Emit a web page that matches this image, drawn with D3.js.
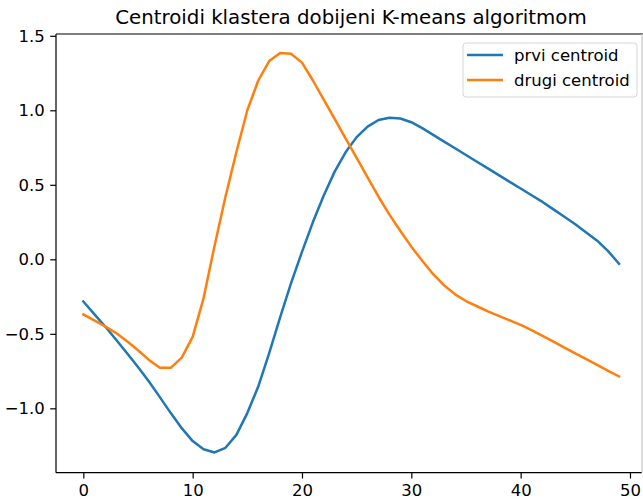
<!DOCTYPE html>
<html lang="en">
<head>
    <meta charset="UTF-8">
    <title>Centroidi</title>
    <style>
        body { margin: 0; background: white; }
        text { font-family: "DejaVu Sans", sans-serif; fill: #000; }
    </style>
</head>
<body>
<div id="my_dataviz"></div>
<script src="https://d3js.org/d3.v7.min.js"></script>
<script>
    // cluster centroids, one value per step 0..49
    var steps = d3.range(50);

    var prvi = [-0.283, -0.368, -0.451, -0.54, -0.63, -0.723, -0.82, -0.925, -1.032, -1.133,
        -1.22, -1.275, -1.296, -1.265, -1.178, -1.032, -0.854, -0.63, -0.39, -0.16,
        0.05, 0.25, 0.43, 0.59, 0.72, 0.82, 0.89, 0.935, 0.95, 0.945,
        0.92, 0.88, 0.835, 0.79, 0.745, 0.70, 0.655, 0.61, 0.565, 0.52,
        0.475, 0.43, 0.385, 0.335, 0.285, 0.235, 0.18, 0.125, 0.055, -0.03];

    var drugi = [-0.37, -0.41, -0.45, -0.495, -0.55, -0.61, -0.675, -0.728, -0.728, -0.66,
        -0.52, -0.26, 0.09, 0.42, 0.72, 1.0, 1.2, 1.33, 1.385, 1.38,
        1.32, 1.2, 1.07, 0.94, 0.81, 0.68, 0.55, 0.42, 0.30, 0.19,
        0.085, -0.01, -0.1, -0.175, -0.235, -0.28, -0.315, -0.35, -0.38, -0.41,
        -0.44, -0.475, -0.514, -0.553, -0.592, -0.631, -0.67, -0.709, -0.748, -0.786];

    var seriesNames = ["prvi centroid", "drugi centroid"];
    var colors = ["#1f77b4", "#ff7f0e"];
    var xTicks = [0, 10, 20, 30, 40, 50];
    var yTicks = [-1.0, -0.5, 0.0, 0.5, 1.0, 1.5];

    var width = 643, height = 504;
    var plotL = 56, plotR = 642, plotT = 34, plotB = 472.7;

    var svg = d3.select("#my_dataviz")
        .append("svg")
        .attr("width", width)
        .attr("height", height);

    var x = d3.scaleLinear().domain([-2.5, 51.1]).range([plotL, plotR]);
    var y = d3.scaleLinear().domain([-1.432, 1.512]).range([plotB, plotT]);

    var fmt = function (d) { return d3.format(".1f")(d).replace("-", "\u2212"); };

    // axes
    var xAxis = svg.append("g")
        .attr("transform", "translate(0," + plotB + ")")
        .call(d3.axisBottom(x).tickValues(xTicks).tickSize(5.8).tickPadding(5.5).tickFormat(d3.format("d")));
    var yAxis = svg.append("g")
        .attr("transform", "translate(" + plotL + ",0)")
        .call(d3.axisLeft(y).tickValues(yTicks).tickSize(5.8).tickPadding(5.5).tickFormat(fmt));

    [xAxis, yAxis].forEach(function (g) {
        g.select(".domain").remove();
        g.selectAll("line").attr("stroke", "#000").attr("stroke-width", 1.2);
        g.selectAll("text").style("font-size", "16.5px").style("font-family", "DejaVu Sans");
    });

    // lines
    var line = d3.line()
        .x(function (d, i) { return x(steps[i]); })
        .y(function (d) { return y(d); });

    [prvi, drugi].forEach(function (s, k) {
        svg.append("path")
            .datum(s)
            .attr("d", line)
            .attr("fill", "none")
            .attr("stroke", colors[k])
            .attr("stroke-width", 2.5)
            .attr("stroke-linejoin", "round")
            .attr("stroke-linecap", "square");
    });

    // frame (right edge is cut by the picture, so it shows faint)
    var frame = [
        [plotL, plotT, plotL, plotB, "#000"],
        [plotL, plotB, plotR, plotB, "#000"],
        [plotL, plotT, plotR + 1, plotT, "#000"],
        [plotR, plotT, plotR, plotB, "#c8c8c8"]
    ];
    frame.forEach(function (f) {
        svg.append("line")
            .attr("x1", f[0]).attr("y1", f[1])
            .attr("x2", f[2]).attr("y2", f[3])
            .attr("stroke", f[4])
            .attr("stroke-width", 1.2);
    });

    // title
    svg.append("text")
        .attr("x", (plotL + 646) / 2)
        .attr("y", 24)
        .attr("text-anchor", "middle")
        .style("font-size", "19.8px")
        .text("Centroidi klastera dobijeni K-means algoritmom");

    // legend
    var lg = svg.append("g").attr("transform", "translate(463,43)");
    lg.append("rect")
        .attr("width", 174)
        .attr("height", 54)
        .attr("rx", 3)
        .attr("fill", "white")
        .attr("fill-opacity", 0.8)
        .attr("stroke", "#d6d6d6")
        .attr("stroke-width", 1);
    seriesNames.forEach(function (name, k) {
        lg.append("line")
            .attr("x1", 4).attr("x2", 40)
            .attr("y1", 12 + k * 25).attr("y2", 12 + k * 25)
            .attr("stroke", colors[k])
            .attr("stroke-width", 2.5);
        lg.append("text")
            .attr("x", 51)
            .attr("y", 12 + k * 25)
            .attr("dy", "0.35em")
            .style("font-size", "16.5px")
            .text(name);
    });
</script>
</body>
</html>
